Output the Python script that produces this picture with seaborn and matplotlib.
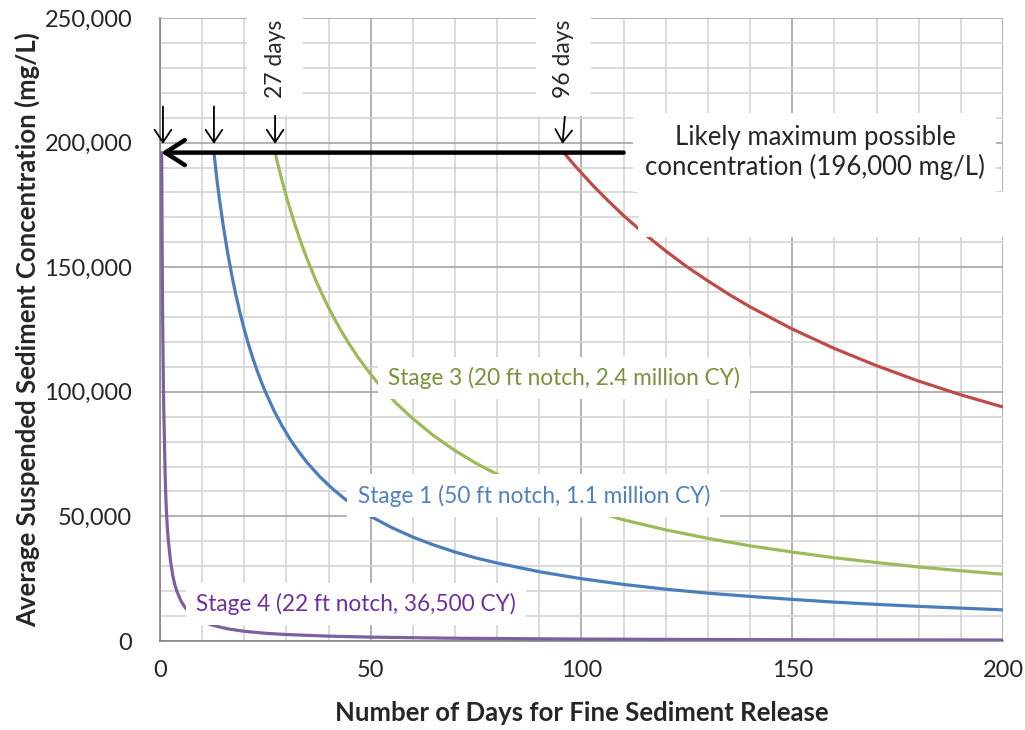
import numpy as np
import pandas as pd
import matplotlib
matplotlib.use("Agg")
import matplotlib.pyplot as plt
from matplotlib.patches import Rectangle
from matplotlib.ticker import MultipleLocator, FuncFormatter
import seaborn as sns

# ---- data ----
stage1_days = [12.8, 13.5, 14, 15, 16, 17, 18, 19, 20, 21, 22, 23, 24, 25, 27, 29, 31, 33, 35, 38,
               41, 44, 47, 50, 55, 60, 65, 70, 75, 80, 90, 100, 110, 120, 130, 140, 150, 160, 170,
               180, 190, 200]
stage1_conc = [196000, 185200, 178600, 166700, 156300, 147100, 138900, 131600, 125000, 119000,
               113600, 108700, 104200, 100000, 92600, 86200, 80600, 75800, 71400, 65800, 61000,
               56800, 53200, 50000, 45500, 41700, 38500, 35700, 33300, 31300, 27800, 25000, 22700,
               20800, 19200, 17900, 16700, 15600, 14700, 13900, 13200, 12500]

stage3_days = [27.3, 28, 29, 30, 31, 32, 33, 34, 35, 37, 39, 41, 43, 45, 47, 50, 53, 56, 60, 65, 70,
               75, 80, 85, 90, 100, 110, 120, 130, 140, 150, 160, 170, 180, 190, 200]
stage3_conc = [196000, 191100, 184500, 178300, 172600, 167200, 162100, 157400, 152900, 144600,
               137200, 130500, 124400, 118900, 113800, 107000, 100900, 95500, 89200, 82300, 76400,
               71300, 66900, 62900, 59400, 53500, 48600, 44600, 41200, 38200, 35700, 33400, 31500,
               29700, 28200, 26800]

stage2_days = [95.8, 98, 100, 103, 106, 110, 115, 120, 125, 130, 135, 140, 150, 160, 170, 180, 190, 200]
stage2_conc = [196000, 191600, 187800, 182300, 177200, 170700, 163300, 156500, 150200, 144500,
               139100, 134100, 125200, 117400, 110500, 104300, 98800, 93900]

stage4_days = [0.4, 0.45, 0.5, 0.6, 0.7, 0.8, 0.9, 1, 1.2, 1.4, 1.6, 1.8, 2, 2.5, 3, 3.5, 4, 5, 6, 7,
               8, 9, 10, 12, 14, 16, 20, 25, 30, 40, 50, 70, 100, 130, 160, 200]
stage4_conc = [196000, 175000, 160000, 135000, 118000, 103000, 92000, 85000, 68000, 57000, 49500,
               44000, 40000, 32000, 26500, 22700, 20000, 16000, 13300, 11400, 10000, 8900, 8000,
               6600, 5700, 4900, 3900, 3100, 2600, 1950, 1560, 1110, 780, 600, 490, 390]

max_conc = 196000
start_days = [0.7, 12.8, 27.3]
label_27 = "27 days"
label_96 = "96 days"
max_label = "Likely maximum possible\nconcentration (196,000 mg/L)"
stage_labels = ["Stage 1 (50 ft notch, 1.1 million CY)",
                "Stage 3 (20 ft notch, 2.4 million CY)",
                "Stage 4 (22 ft notch, 36,500 CY)"]
x_ticks = [0, 50, 100, 150, 200]
y_ticks = [0, 50000, 100000, 150000, 200000, 250000]

frames = []
for name, d, c in [("Stage 1", stage1_days, stage1_conc), ("Stage 3", stage3_days, stage3_conc),
                   ("Stage 2", stage2_days, stage2_conc), ("Stage 4", stage4_days, stage4_conc)]:
    frames.append(pd.DataFrame({"days": d, "conc": c, "stage": name}))
df = pd.concat(frames, ignore_index=True)

palette = {"Stage 1": "#4A7EBB", "Stage 3": "#9BBB59", "Stage 2": "#BE4B48", "Stage 4": "#7D60A0"}

sns.set_style("white")
plt.rcParams["font.family"] = ["Lato", "DejaVu Sans"]

fig = plt.figure(figsize=(10.25, 7.3), dpi=100)
ax = fig.add_axes([0.1561, 0.1219, 0.8224, 0.8534])

sns.lineplot(data=df, x="days", y="conc", hue="stage", palette=palette, lw=2.3, ax=ax,
             legend=False, sort=False, estimator=None, zorder=3)

ax.set_xlim(0, 200)
ax.set_ylim(0, 250000)
ax.xaxis.set_minor_locator(MultipleLocator(10))
ax.yaxis.set_minor_locator(MultipleLocator(10000))
ax.set_xticks(x_ticks)
ax.set_yticks(y_ticks)
ax.yaxis.set_major_formatter(FuncFormatter(lambda v, p: f"{int(v):,}"))
ax.grid(which="minor", color="#d4d4d4", lw=1.2, zorder=0)
ax.grid(which="major", color="#a6a6a6", lw=1.2, zorder=0)
ax.set_axisbelow(True)
for s in ["top", "right"]:
    ax.spines[s].set_visible(False)
for s in ["left", "bottom"]:
    ax.spines[s].set_color("#868686")
    ax.spines[s].set_linewidth(1.2)
ax.tick_params(axis="y", which="major", length=6, color="#868686", pad=14, labelsize=17)
ax.tick_params(axis="x", which="major", length=6, color="#868686", pad=8, labelsize=17)
ax.tick_params(which="minor", length=0)
ax.set_xlabel("Number of Days for Fine Sediment Release", fontsize=18.5, fontweight="bold", labelpad=14)
ax.set_ylabel("Average Suspended Sediment Concentration (mg/L)", fontsize=18.5, fontweight="bold",
              labelpad=3)

# big arrow
ax.annotate("", xy=(0.3, max_conc), xytext=(110, max_conc),
            arrowprops=dict(arrowstyle="->,head_length=0.7,head_width=0.45", lw=3.2, color="black",
                            mutation_scale=20, shrinkA=0, shrinkB=0), zorder=5)
# small arrows
for d in start_days:
    ax.annotate("", xy=(d, max_conc + 3500), xytext=(d, 214500),
                arrowprops=dict(arrowstyle="->,head_length=0.45,head_width=0.3", lw=1.3, color="black",
                                mutation_scale=20, shrinkA=0, shrinkB=0), zorder=5)
ax.annotate("", xy=(95.5, max_conc + 3500), xytext=(96.2, 213500),
            arrowprops=dict(arrowstyle="->,head_length=0.45,head_width=0.3", lw=1.3, color="black",
                            mutation_scale=20, shrinkA=0, shrinkB=0), zorder=5)

box = dict(facecolor="white", edgecolor="none", boxstyle="square,pad=0.75")
ax.text(27.3, 233500, label_27, rotation=90, ha="center", va="center", fontsize=16.5, bbox=box,
        zorder=6, clip_on=False)
ax.text(95.8, 233500, label_96, rotation=90, ha="center", va="center", fontsize=16.5, bbox=box,
        zorder=6, clip_on=False)

# empty label area (hides part of red curve)
ax.add_patch(Rectangle((113.4, 162000), 86.6, 18000, facecolor="white", edgecolor="none", zorder=4))
ax.text(155.4, max_conc, max_label, ha="center", va="center", fontsize=18.5, linespacing=1.2,
        bbox=dict(facecolor="white", edgecolor="none", boxstyle="square,pad=0.45"), zorder=6)

lbox = dict(facecolor="white", edgecolor="none", boxstyle="square,pad=0.45")
ax.text(88.7, 58400, stage_labels[0], ha="center", va="center", fontsize=16.3, color="#4F81BD",
        bbox=lbox, zorder=6)
ax.text(95.8, 105500, stage_labels[1], ha="center", va="center", fontsize=16.3, color="#77933C",
        bbox=lbox, zorder=6)
ax.text(46.5, 14800, stage_labels[2], ha="center", va="center", fontsize=16.3, color="#7030A0",
        bbox=lbox, zorder=6)

fig.savefig("out.png", dpi=100, facecolor="white")
